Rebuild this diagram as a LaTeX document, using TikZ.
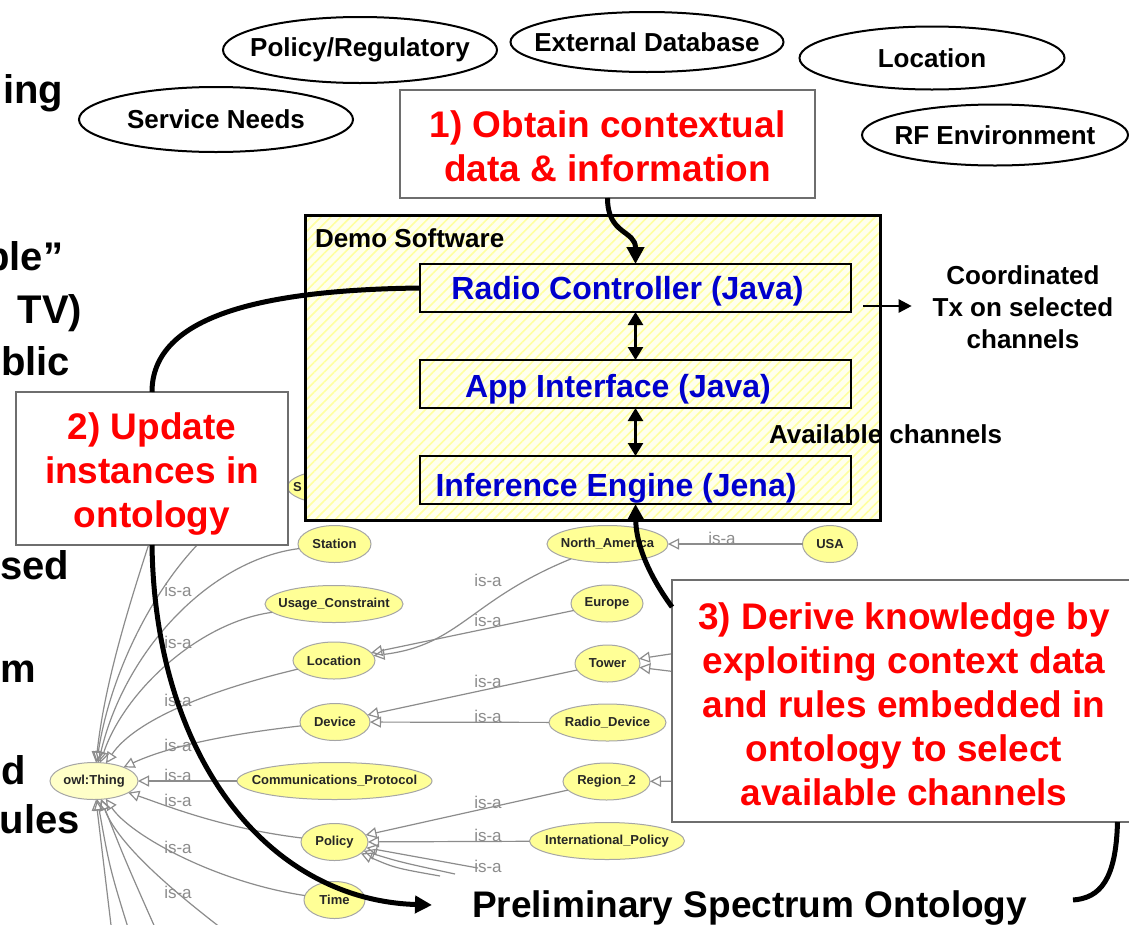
\documentclass[tikz,border=0pt]{standalone}
\usepackage{fontspec}
\setmainfont{Liberation Sans}
\usetikzlibrary{arrows.meta,shapes.geometric,patterns.meta}
\newcommand{\myfs}[2]{\fontsize{#1}{#2}\selectfont}
\newcommand{\zw}[1]{\makebox[0pt]{#1}}
\definecolor{ontoyel}{RGB}{255,255,150}
\definecolor{thingyel}{RGB}{255,255,200}
\definecolor{isagray}{RGB}{140,140,140}
\definecolor{hatchyel}{RGB}{255,255,160}
\definecolor{demobg}{RGB}{255,255,238}
\definecolor{boxgray}{RGB}{110,110,110}
\definecolor{txtblue}{RGB}{0,0,204}
\definecolor{txtred}{RGB}{255,0,0}
\begin{document}
\begin{tikzpicture}[x=1pt,y=-1pt,
  every node/.style={inner sep=0pt, outer sep=0pt},
  ctx/.style={ellipse, draw=black, line width=2pt, fill=white, font=\myfs{26}{30}\bfseries},
  onto/.style={ellipse, draw=gray!70, line width=1pt, fill=ontoyel, minimum height=37pt, font=\myfs{13}{15}\bfseries, text=black!85},
  isa/.style={draw=isagray, line width=1.2pt, -{Triangle[open,length=11pt,width=11pt]}},
  isalbl/.style={font=\myfs{17}{17}, text=isagray},
  redbox/.style={draw=boxgray, line width=1.5pt, fill=white},
  redtxt/.style={font=\myfs{37}{44}\bfseries, text=txtred, align=center},
  swbox/.style={draw=black, line width=2.5pt, minimum width=431pt, minimum height=48pt},
  bluetxt/.style={font=\myfs{32}{32}\bfseries, text=txtblue, anchor=base},
  bigcurve/.style={draw=black, line width=5pt},
  bigtip/.style={-{Triangle[length=17pt,width=17pt]}},
  dbl/.style={line width=2.5pt, {Triangle[length=13pt,width=15pt]}-{Triangle[length=13pt,width=15pt]}},
  frag/.style={font=\myfs{40}{40}\bfseries, anchor=base east},
  blk/.style={font=\myfs{26}{32}\bfseries, align=center}
]
\useasboundingbox (0,0) rectangle (1129,924);
\clip (0,0) rectangle (1129,924);
\fill[white] (0,0) rectangle (1129,924);

% left text fragments
\node[frag] (f1) at (63,103) {ing};
\node[frag] (f2) at (63,270) {ble”};
\node[frag] (f3) at (82,323) {TV)};
\node[frag] (f4) at (70,375) {blic};
\node[frag] (f5) at (69,579) {sed};
\node[frag] (f6) at (36,682) {m};
\node[frag] (f7) at (26,784) {d};
\node[frag] (f8) at (80,833) {ules};

% context ellipses
\node[ctx, minimum width=274pt, minimum height=66pt] (pr) at (360,50) {\zw{Policy/Regulatory}};
\node[ctx, minimum width=273pt, minimum height=60pt] (ed) at (647,42) {\zw{External Database}};
\node[ctx, minimum width=265pt, minimum height=63pt] (lc) at (932,58) {\zw{Location}};
\node[ctx, minimum width=266pt, minimum height=61pt] (rf) at (995,135) {\zw{RF Environment}};
\node[ctx, minimum width=274pt, minimum height=65pt] (sn) at (216,119.5) {\zw{Service Needs}};

% ontology nodes
\node[onto, fill=thingyel, minimum width=88pt] (thing) at (94,781) {\zw{owl:Thing}};
\node[onto, minimum width=115pt] (snode) at (345,487) {};
\node[font=\myfs{13}{15}\bfseries, text=black!85, anchor=west] (stxt) at (293,487) {S};
\node[onto, minimum width=73pt] (stat) at (334.5,544) {\zw{Station}};
\node[onto, minimum width=138pt] (usage) at (334,604) {\zw{Usage\_Constraint}};
\node[onto, minimum width=82pt] (loc) at (334,660.5) {\zw{Location}};
\node[onto, minimum width=70pt] (dev) at (335,722) {\zw{Device}};
\node[onto, minimum width=195pt] (comm) at (334.5,781) {\zw{Communications\_Protocol}};
\node[onto, minimum width=67pt] (pol) at (334.5,842) {\zw{Policy}};
\node[onto, minimum width=61pt] (time) at (334.5,900) {\zw{Time}};
\node[onto, minimum width=121pt] (na) at (607.5,544) {\zw{North\_America}};
\node[onto, minimum width=55pt] (usa) at (830,544) {\zw{USA}};
\node[onto, minimum width=72pt] (eur) at (607,603.5) {\zw{Europe}};
\node[onto, minimum width=65pt] (tower) at (607.5,663.5) {\zw{Tower}};
\node[onto, minimum width=117pt] (rdev) at (607.5,722.5) {\zw{Radio\_Device}};
\node[onto, minimum width=87pt] (reg2) at (606.5,781.5) {\zw{Region\_2}};
\node[onto, minimum width=155pt] (ipol) at (607,841) {\zw{International\_Policy}};

% hidden / off-picture ends of ontology edges
\coordinate (pA) at (478,868);
\coordinate (pB) at (455,874);
\coordinate (pC) at (440,876);
\coordinate (tA) at (710,648);
\coordinate (tB) at (710,676);
\coordinate (rA) at (710,781);
\coordinate (hA) at (165,495);
\coordinate (bA) at (114,950);
\coordinate (bB) at (135,950);
\coordinate (bC) at (165,950);
\coordinate (bD) at (250,950);

% ontology edges
\draw[isa] (usa) -- (na);
\draw[isa] (na) .. controls (470,600) and (460,645) .. (loc);
\draw[isa] (eur) -- (loc);
\draw[isa] (tower) -- (dev);
\draw[isa] (rdev) -- (dev);
\draw[isa] (reg2) -- (pol);
\draw[isa] (ipol) -- (pol);
\draw[isa] (pA) -- (pol);
\draw[isa] (pB) .. controls (400,862) .. (pol);
\draw[isa] (pC) .. controls (395,868) .. (pol);
\draw[isa] (tA) -- (tower);
\draw[isa] (tB) -- (tower);
\draw[isa] (rA) -- (reg2);
\draw[isa] (stat) .. controls (210,560) and (125,650) .. (thing);
\draw[isa] (usage) .. controls (200,622) and (125,690) .. (thing);
\draw[isa] (loc) .. controls (210,690) and (135,720) .. (thing);
\draw[isa] (dev) .. controls (220,735) and (165,748) .. (thing);
\draw[isa] (comm) -- (thing);
\draw[isa] (pol) .. controls (220,828) and (165,805) .. (thing);
\draw[isa] (time) .. controls (215,882) and (130,835) .. (thing);
\draw[isa] (snode) .. controls (200,500) and (115,640) .. (thing);
\draw[isa] (hA) .. controls (130,600) and (105,680) .. (thing);
\draw[isa] (bA) .. controls (105,880) .. (thing);
\draw[isa] (bB) .. controls (110,870) .. (thing);
\draw[isa] (bC) .. controls (125,860) .. (thing);
\draw[isa] (bD) .. controls (190,905) and (120,850) .. (thing);

% is-a labels
\foreach \p/\q in {178/590,178/642,178/700,178/745,178/775,178/800,178/847,178/892,
                   722/538,488/580,488/620,488/681,488/716,488/802,488/835,488/866}
  \node[isalbl] at (\p,\q) {is-a};

% Demo software box
\node[draw=black, line width=3pt, minimum width=575pt, minimum height=305pt,
      preaction={fill=demobg}, pattern={Lines[angle=45,distance=7pt,line width=1.6pt]},
      pattern color=hatchyel] (demo) at (592.5,367.5) {};
\node[font=\myfs{26}{26}\bfseries, anchor=base west] (demolbl) at (315,247) {Demo Software};
\node[swbox] (rc) at (635.5,288) {};
\node[swbox] (ai) at (635.5,384) {};
\node[swbox] (ie) at (635.5,480) {};
\node[bluetxt] (rct) at (627.5,299) {Radio Controller (Java)};
\node[bluetxt] (ait) at (618,397) {App Interface (Java)};
\node[bluetxt] (iet) at (616,496) {Inference Engine (Jena)};
\draw[dbl] (rc.south) -- (ai.north);
\draw[dbl] (ai.south) -- (ie.north);

% red step boxes
\node[redbox, minimum width=415pt, minimum height=108pt] (b1) at (607.5,144) {};
\node[redtxt] (b1t) at (607.5,146) {1) Obtain contextual\\data \& information};
\node[redbox, minimum width=272pt, minimum height=153pt] (b2) at (152,468.5) {};
\node[redtxt] (b2t) at (152,474) {2) Update\\instances in\\ontology};
\node[redbox, minimum width=463pt, minimum height=242pt] (b3) at (903.5,701) {};
\node[redtxt] (b3t) at (904,704) {3) Derive knowledge by\\exploiting context data\\and rules embedded in\\ontology to select\\available channels};

% other texts
\node[blk] (coord) at (1023,307) {Coordinated\\Tx on selected\\channels};
\node[font=\myfs{26}{26}\bfseries, anchor=base west] (avail) at (769,443) {Available channels};
\node[font=\myfs{37}{37}\bfseries, anchor=base west] (prel) at (472,917) {Preliminary Spectrum Ontology};

% connector ends
\coordinate (txs) at (863,306);
\coordinate (arrtip) at (432,905);
\coordinate (c3a) at (672,607);
\coordinate (c3end) at (1073,900);

% thick connectors
\draw[line width=2.5pt, -{Triangle[length=13pt,width=13pt]}] (txs) -- ([xshift=-21pt]coord.west |- txs);
\draw[bigcurve, bigtip] (b1.south) .. controls (607.5,235) and (635.5,230) .. (rc.north);
\draw[bigcurve] (rc.west) .. controls (250,290) and (152,320) .. (b2.north);
\draw[bigcurve, bigtip] (b2.south) .. controls (155,760) and (270,900) .. (arrtip);
\draw[bigcurve, bigtip] (c3a) .. controls (645,570) and (636,540) .. (ie.south);
\draw[bigcurve] ([xshift=214pt]b3.south) .. controls (1116,880) and (1100,898) .. (c3end);
\end{tikzpicture}
\end{document}
